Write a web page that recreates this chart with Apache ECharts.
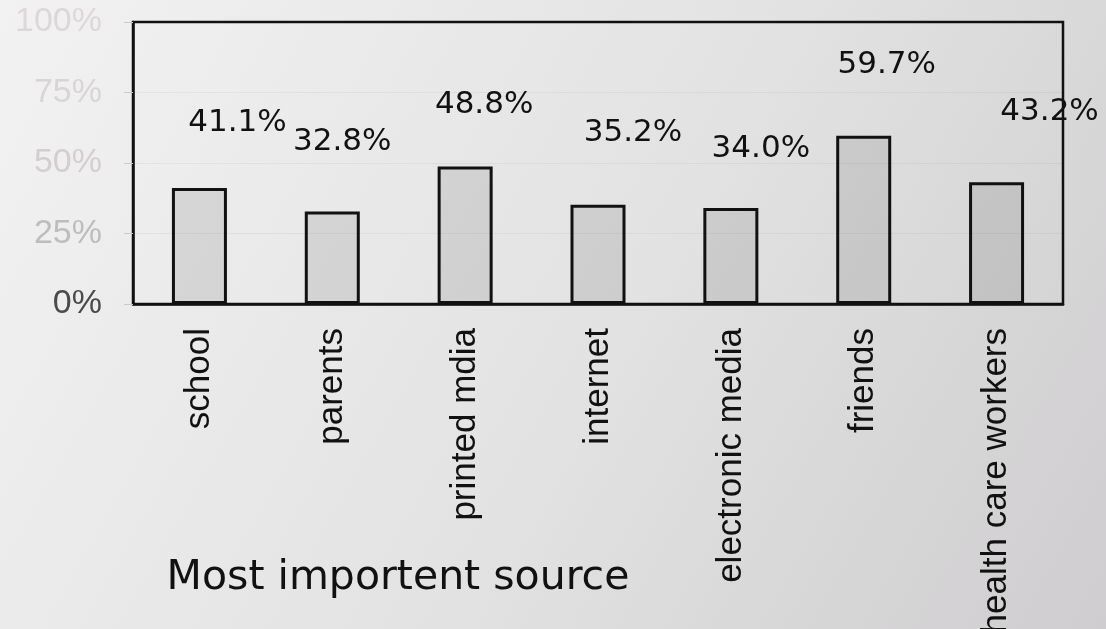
<!DOCTYPE html>
<html>
<head>
<meta charset="utf-8">
<script src="https://cdn.jsdelivr.net/npm/echarts@6/dist/echarts.min.js"></script>
<style>
  html, body { margin: 0; padding: 0; width: 1106px; height: 629px; overflow: hidden; background: #e8e8e8; }
  #chart { width: 1106px; height: 629px; }
</style>
</head>
<body>
<div id="chart"></div>
<script>
// Source categories and the share of respondents naming each one
const categories = ['school', 'parents', 'printed mdia', 'internet', 'electronic media', 'friends', 'health care workers'];
const shares = [41.1, 32.8, 48.8, 35.2, 34.0, 59.7, 43.2];
const yTicks = [0, 25, 50, 75, 100];
const axisTitle = 'Most importent source';

// Per-bar nudges (px) for the value labels, which sit off to the side of their bars
const labelNudge = [[38, -50], [10, -54], [19, -46], [35, -56], [30, -44], [23, -55], [53, -55]];
// Washed-out tones of the percentage tick labels, from 0% upwards
const tickTones = ['#4a4a4a', '#bdbdbd', '#d5cece', '#d9d5d5', '#dcd8d8'];

const tickRich = {};
tickTones.forEach((c, i) => {
  tickRich['t' + i] = { color: c, fontSize: 34, fontFamily: 'Liberation Sans, Arial, sans-serif' };
});

const chart = echarts.init(document.getElementById('chart'));

chart.setOption({
  animation: false,
  backgroundColor: new echarts.graphic.LinearGradient(0, 0, 1, 1, [
    { offset: 0, color: '#f2f2f2' },
    { offset: 0.55, color: '#e2e2e2' },
    { offset: 1, color: '#cfcdcf' }
  ]),
  grid: {
    left: 133, right: 43, top: 22, bottom: 325,
    containLabel: false,
    outerBoundsMode: 'none',
    show: true, borderColor: '#111', borderWidth: 2.5,
    backgroundColor: 'transparent'
  },
  xAxis: {
    type: 'category',
    data: categories,
    axisLine: { show: true, lineStyle: { color: '#111', width: 2.5 } },
    axisTick: { show: false },
    splitLine: { show: false },
    axisLabel: {
      rotate: 90,
      margin: 24,
      interval: 0,
      color: '#111',
      fontSize: 35,
      fontFamily: 'Liberation Sans, Arial, sans-serif'
    }
  },
  yAxis: {
    type: 'value',
    min: 0, max: 100, interval: 25,
    axisLine: { show: true, lineStyle: { color: '#111', width: 2.5 } },
    axisTick: { show: true, length: 9, lineStyle: { color: '#cbcbcb', width: 1 } },
    splitLine: { show: true, lineStyle: { color: 'rgba(0,0,0,0.045)', width: 1 } },
    axisLabel: {
      margin: 31,
      formatter: v => '{t' + yTicks.indexOf(v) + '|' + v + '%}',
      rich: tickRich
    }
  },
  series: [{
    type: 'bar',
    barWidth: 55,
    data: shares.map((v, i) => ({ value: v, label: { offset: labelNudge[i] } })),
    itemStyle: { color: 'rgba(0,0,0,0.09)', borderColor: '#111', borderWidth: 3 },
    label: {
      show: true,
      position: 'top',
      distance: 0,
      color: '#111',
      fontSize: 31,
      fontFamily: 'DejaVu Sans, sans-serif',
      formatter: p => p.value.toFixed(1) + '%'
    }
  }],
  graphic: [{
    type: 'text',
    x: 398,
    y: 578,
    style: {
      text: axisTitle,
      align: 'center',
      verticalAlign: 'middle',
      fill: '#111',
      font: '41px "DejaVu Sans", sans-serif'
    }
  }]
});
</script>
</body>
</html>
